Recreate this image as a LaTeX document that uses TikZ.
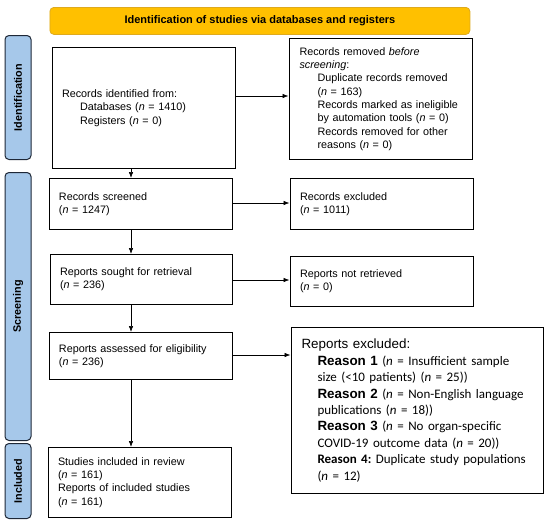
\documentclass[tikz,border=0pt]{standalone}
\usepackage{fontspec}
\setmainfont{Liberation Sans}
\newfontfamily\calib{Carlito}
\usetikzlibrary{arrows.meta}
\frenchspacing
\definecolor{gold}{RGB}{255,192,0}
\definecolor{golddark}{RGB}{222,170,30}
\definecolor{sideblue}{RGB}{166,200,234}
\definecolor{sidedark}{RGB}{30,40,55}
\tikzset{
  x=1pt,y=-1pt,
  box/.style={draw=black, line width=1pt, fill=white, inner xsep=10pt, inner ysep=0pt, align=left, anchor=north west, font=\fontsize{10.8}{13.3}\selectfont},
  side/.style={draw=sidedark, line width=1pt, fill=sideblue, rounded corners=4pt, anchor=north west, inner sep=0pt},
  sidetext/.style={rotate=90, font=\bfseries\fontsize{10.8}{12}\selectfont},
  arr/.style={-{Latex[length=6pt,width=4.5pt]}, line width=0.6pt},
}
\begin{document}
\begin{tikzpicture}
\useasboundingbox (0,0) rectangle (550,523);
% header
\node[draw=golddark, line width=0.8pt, fill=gold, rounded corners=4pt, minimum width=420pt, minimum height=27pt, anchor=north west, inner sep=0pt, font=\bfseries\fontsize{11}{13}\selectfont] (hdr) at (49.5,7) {Identification of studies via databases and registers};
% side labels
\node[side, minimum width=26pt, minimum height=124pt] (sid) at (4.5,35) {};
\node[sidetext] (sidt) at (sid.center) {Identification};
\node[side, minimum width=26pt, minimum height=268pt] (sscr) at (4.5,172) {};
\node[sidetext] (sscrt) at (sscr.center) {Screening};
\node[side, minimum width=26pt, minimum height=75pt] (sinc) at (4.5,443) {};
\node[sidetext] (sinct) at (sinc.center) {Included};
% boxes
\node[box, text width=163pt, minimum height=121pt] (ident) at (51.5,47) {Records identified from:\\
\hspace*{18pt}Databases (\textit{n} = 1410)\\
\hspace*{18pt}Registers (\textit{n} = 0)};
\node[box, text width=162pt, minimum height=121pt, inner xsep=10.5pt] (removed) at (288.5,38) {Records removed \textit{before}\\\textit{screening}:\\
\hspace*{18pt}Duplicate records removed\\
\hspace*{18pt}(\textit{n} = 163)\\
\hspace*{18pt}Records marked as ineligible\\
\hspace*{18pt}by automation tools (\textit{n} = 0)\\
\hspace*{18pt}Records removed for other\\
\hspace*{18pt}reasons (\textit{n} = 0)};
\node[box, text width=163pt, minimum height=51pt] (screened) at (48.5,178) {Records screened\\(\textit{n} = 1247)};
\node[box, text width=163pt, minimum height=51pt] (excl) at (289.5,178) {Records excluded\\(\textit{n} = 1011)};
\node[box, text width=162pt, minimum height=50pt] (sought) at (49.5,254) {Reports sought for retrieval\\(\textit{n} = 236)};
\node[box, text width=163pt, minimum height=50pt] (notret) at (289.5,256) {Reports not retrieved\\(\textit{n} = 0)};
\node[box, text width=163pt, minimum height=47pt] (assessed) at (48.5,332) {Reports assessed for eligibility\\(\textit{n} = 236)};
\node[box, text width=231pt, minimum height=166pt, inner xsep=10.5pt, font=\fontsize{13.4}{16.4}\selectfont] (rexcl) at (290.5,327) {Reports excluded:\\
\hspace*{16pt}\textbf{Reason 1} {\calib\fontsize{13}{16.4}\selectfont(\textit{n} = Insufficient sample}\\
\hspace*{16pt}{\calib\fontsize{13}{16.4}\selectfont size (<10 patients) (\textit{n} = 25))}\\
\hspace*{16pt}\textbf{Reason 2} {\calib\fontsize{13}{16.4}\selectfont(\textit{n} = Non-English language}\\
\hspace*{16pt}{\calib\fontsize{13}{16.4}\selectfont publications (\textit{n} = 18))}\\
\hspace*{16pt}\textbf{Reason 3} {\calib\fontsize{13}{16.4}\selectfont(\textit{n} = No organ-specific}\\
\hspace*{16pt}{\calib\fontsize{13}{16.4}\selectfont COVID-19 outcome data (\textit{n} = 20))}\\
\hspace*{16pt}{\calib\fontsize{13}{16.4}\selectfont\textbf{Reason 4:} Duplicate study populations}\\
\hspace*{16pt}{\calib\fontsize{13}{16.4}\selectfont(\textit{n} = 12)}};
\node[box, text width=163pt, minimum height=70pt] (incl) at (47.5,447) {Studies included in review\\(\textit{n} = 161)\\Reports of included studies\\(\textit{n} = 161)};
% arrows
\draw[arr] (ident.east |- 0,96) -- (removed.west |- 0,96);
\draw[arr] (screened.east |- 0,203) -- (excl.west |- 0,203);
\draw[arr] (sought.east |- 0,280) -- (notret.west |- 0,280);
\draw[arr] (assessed.east |- 0,355) -- (rexcl.west |- 0,355);
\draw[arr] (ident.south -| 131,0) -- (screened.north -| 131,0);
\draw[arr] (screened.south -| 131,0) -- (sought.north -| 131,0);
\draw[arr] (sought.south -| 131,0) -- (assessed.north -| 131,0);
\draw[arr] (assessed.south -| 131,0) -- (incl.north -| 131,0);
\end{tikzpicture}
\end{document}
